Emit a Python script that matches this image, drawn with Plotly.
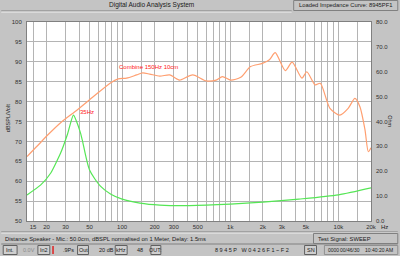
import plotly.graph_objects as go
import math

# ---- data ----
spl_freq = [13.2, 16.5, 20.5, 27, 38.4, 54, 78, 92, 110, 136, 155, 180, 223, 275, 320, 340, 450, 600,
            740, 845, 1010, 1250, 1540, 1980, 2300, 2600, 3230, 3730, 4600, 5100, 6100, 6800, 8350,
            10300, 12300, 14200, 15800, 17600, 18900, 20000]
spl_db = [66.2, 68.9, 71.6, 74.7, 77.9, 81.2, 84.7, 85.7, 85.9, 86.7, 87.2, 86.9, 86.4, 86.7, 85.7, 85.4,
          86.7, 85.2, 85.4, 86.3, 85.4, 86.1, 88.8, 89.6, 90.5, 92.3, 87.8, 89.9, 85.9, 87.5, 84.2, 84.6,
          78.3, 76.6, 78.3, 80.8, 78.7, 72.9, 67.4, 68.4]

imp_freq = [13.2, 17.7, 21.9, 25.2, 27, 31.3, 35.5, 38, 41.2, 42.8, 50, 63, 78, 100, 146, 223, 420,
            1000, 2000, 4300, 10000, 20000]
imp_ohm = [10.5, 14.5, 19.3, 24.5, 27.3, 35.0, 42.6, 39.9, 35.4, 32.6, 20.5, 14.0, 10.9, 8.8, 7.2, 6.4,
           6.2, 6.8, 7.6, 8.8, 10.5, 13.3]

x_tick_vals = [15, 20, 30, 50, 100, 200, 300, 500, 1000, 2000, 3000, 5000, 10000, 20000]
x_tick_text = ["15", "20", "30", "50", "100", "200", "300", "500", "1k", "2k", "3k", "5k", "10k", "20k"]
x_grid_vals = ([15] + [d * m for d in (10, 100, 1000) for m in range(2, 10)] +
               [150, 1500, 15000, 10000, 20000])
x_grid_vals = sorted(set(x_grid_vals + [100, 1000]))

# ---- geometry helpers (pixel -> paper) ----
L, R, T, B = 26, 27, 22, 35
W, H = 400, 256
PW, PH = W - L - R, H - T - B


def px(x):
    return (x - L) / PW


def py(y):
    return (H - B - y) / PH


FONT = "Liberation Sans"
BG = "#c4c4c4"

fig = go.Figure()
fig.add_trace(go.Scatter(x=spl_freq, y=spl_db, mode="lines",
                         line=dict(color="#ff9f70", width=1.2, shape="spline", smoothing=0.7),
                         yaxis="y", showlegend=False, hoverinfo="skip"))
fig.add_trace(go.Scatter(x=imp_freq, y=imp_ohm, mode="lines",
                         line=dict(color="#55e655", width=1.2, shape="spline", smoothing=0.7),
                         yaxis="y2", showlegend=False, hoverinfo="skip"))

ticktext_full = [x_tick_text[x_tick_vals.index(v)] if v in x_tick_vals else "" for v in x_grid_vals]

fig.update_layout(
    width=W, height=H,
    margin=dict(l=L, r=R, t=T, b=B, pad=0),
    paper_bgcolor=BG, plot_bgcolor="white",
    font=dict(family=FONT, size=6, color="#303030"),
    xaxis=dict(type="log", range=[math.log10(13.2), math.log10(20000)],
               tickvals=x_grid_vals, ticktext=ticktext_full, tickangle=0,
               showgrid=True, gridcolor="#b4b4b4", gridwidth=1, ticks="",
               showline=True, linecolor="#808080", linewidth=1, mirror=True,
               zeroline=False, tickfont=dict(size=6)),
    yaxis=dict(range=[50, 100], dtick=5, tick0=50, showgrid=True, gridcolor="#b4b4b4",
               ticks="", showline=True, linecolor="#808080", linewidth=1, mirror=True,
               zeroline=False, tickfont=dict(size=6), ticklabelstandoff=3),
    yaxis2=dict(range=[0, 80], dtick=10, tick0=0, overlaying="y", side="right",
                showgrid=False, ticks="", tickformat=".1f", zeroline=False,
                tickfont=dict(size=6), ticklabelstandoff=4),
)

shapes = []
ann = []


def rect(x0, y0, x1, y1, fill=BG, line="#808080", lw=1):
    shapes.append(dict(type="rect", xref="paper", yref="paper", x0=px(x0), x1=px(x1),
                       y0=py(y1), y1=py(y0), fillcolor=fill, line=dict(color=line, width=lw),
                       layer="above"))


def hline(x0, x1, y, color):
    shapes.append(dict(type="line", xref="paper", yref="paper", x0=px(x0), x1=px(x1),
                       y0=py(y), y1=py(y), line=dict(color=color, width=1)))


def text(x, y, s, size=6, color="#202020", xanchor="left", angle=0):
    ann.append(dict(xref="paper", yref="paper", x=px(x), y=py(y), text=s, showarrow=False,
                    xanchor=xanchor, yanchor="middle", textangle=angle,
                    font=dict(family=FONT, size=size, color=color)))


# top title bar
hline(0, 293, 11, "#808080")
hline(0, 293, 12, "#f0f0f0")
text(152, 5.5, "Digital Audio Analysis System", size=6.5, xanchor="center")
rect(295, 0.5, 400, 10.5)
text(347.5, 5.5, "Loaded Impedance Curve: 8945PF1", size=5.8, xanchor="center")

# axis titles
text(7, 118, "dBSPL/Volt", size=5.5, xanchor="center", angle=-90)
text(392, 121, "Ohm", size=5.5, xanchor="center", angle=90)
text(381, 227, "Hz", size=6)

# chart labels
ann.append(dict(x=math.log10(39.5), y=77.4, xref="x", yref="y", text="35Hz", showarrow=False,
                xanchor="left", yanchor="middle", font=dict(family=FONT, size=6, color="#ff2020")))
ann.append(dict(x=math.log10(90), y=88.7, xref="x", yref="y", text="Combine 150Hz 10cm",
                showarrow=False, xanchor="left", yanchor="middle",
                font=dict(family=FONT, size=6, color="#ff2020")))

# status area
hline(0, 400, 232, "#808080")
hline(0, 400, 233, "#f0f0f0")
text(2, 238.5, "Distance Speaker - Mic.: 50.0cm, dBSPL normalised on 1 Meter, Delay: 1.5ms", size=5.8)
rect(315, 233.5, 400, 243.5)
text(318, 238.5, "Test Signal: SWEEP", size=5.8)

# bottom button row
hline(0, 400, 244, "#808080")
for (x0, x1, s) in [(2, 16, "Int."), (37, 49, "In2"), (77, 88, "Out"), (115, 127, "kHz"),
                    (151, 161, "OUT:"), (306, 318, "SN")]:
    rect(x0, 245.5, x1, 254.5, fill="#cfcfcf", line="#606060")
    text((x0 + x1) / 2, 250, s, size=5.5, xanchor="center")
shapes.append(dict(type="rect", xref="paper", yref="paper", x0=px(51.5), x1=px(53), y0=py(254),
                   y1=py(246), fillcolor="#e02020", line=dict(width=0)))
text(28, 250, "0.0V", size=5.5, color="#8a8a8a", xanchor="center")
text(68, 250, ".9Ps", size=5.5, xanchor="center")
text(106, 250, "20 dB", size=5.5, xanchor="center")
text(140, 250, "48", size=5.5, xanchor="center")
text(253, 250, "8 9 4 5 P   W 0 4 2 6 F 1 ~ F 2", size=5.5, xanchor="center")
rect(326, 245.5, 400, 254.5, fill=BG, line="#909090")
text(335, 250, "0000", size=5, xanchor="center")
text(352, 250, "00/46/30", size=5, xanchor="center")
text(381, 250, "10:40:20 AM", size=5, xanchor="center")

fig.update_layout(shapes=shapes, annotations=ann)
fig.write_html("out.html")
